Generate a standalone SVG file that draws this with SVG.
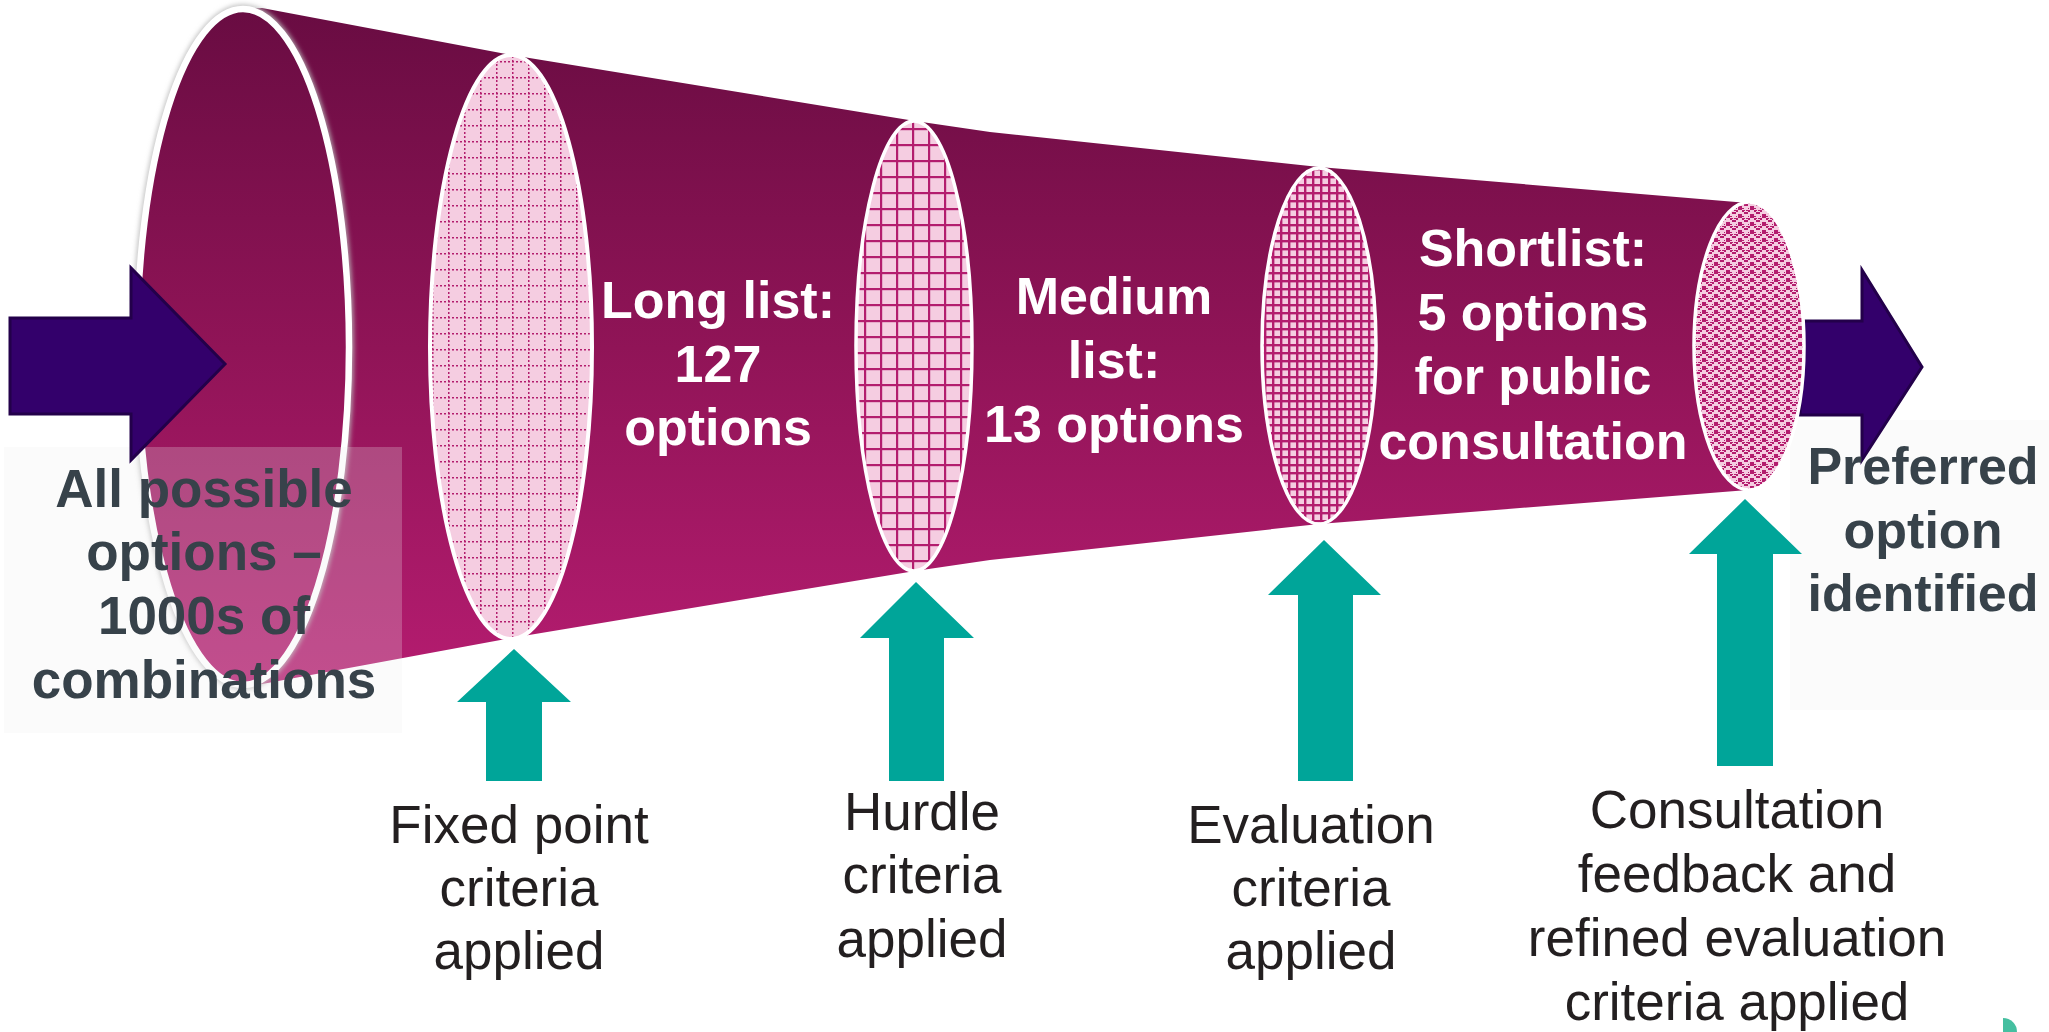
<svg xmlns="http://www.w3.org/2000/svg" width="2049" height="1032" viewBox="0 0 2049 1032">
<defs>
  <linearGradient id="funnelGrad" gradientUnits="userSpaceOnUse" x1="0" y1="9" x2="0" y2="686">
    <stop offset="0" stop-color="#690C42"/>
    <stop offset="0.5" stop-color="#901457"/>
    <stop offset="1" stop-color="#B51C70"/>
  </linearGradient>
  <pattern id="dotGrid" width="16" height="16" patternUnits="userSpaceOnUse">
    <rect width="16" height="16" fill="#F5CDE1"/>
    <line x1="0.75" y1="0" x2="0.75" y2="16" stroke="#B31D6E" stroke-width="1.5" stroke-dasharray="2 2"/>
    <line x1="0" y1="13.75" x2="16" y2="13.75" stroke="#B31D6E" stroke-width="1.5" stroke-dasharray="2 2"/>
  </pattern>
  <pattern id="grid16" width="16" height="16" patternUnits="userSpaceOnUse">
    <rect width="16" height="16" fill="#F5CDE1"/>
    <rect x="0" y="0" width="2.2" height="16" fill="#B31D6E"/>
    <rect x="0" y="0" width="16" height="2.2" fill="#B31D6E"/>
  </pattern>
  <pattern id="grid8" width="8" height="8" patternUnits="userSpaceOnUse">
    <rect width="8" height="8" fill="#F5CDE1"/>
    <rect x="0" y="0" width="2.4" height="8" fill="#B31D6E"/>
    <rect x="0" y="0" width="8" height="2.4" fill="#B31D6E"/>
  </pattern>
  <pattern id="zigzag" width="12" height="8" patternUnits="userSpaceOnUse">
    <rect width="12" height="8" fill="#F5CDE1"/>
    <g fill="#B31D6E">
      <rect x="0" y="0" width="2" height="2"/>
      <rect x="2" y="2" width="2" height="2"/>
      <rect x="4" y="4" width="2" height="2"/>
      <rect x="6" y="4" width="2" height="2"/>
      <rect x="8" y="2" width="2" height="2"/>
      <rect x="10" y="0" width="2" height="2"/>
      <rect x="2" y="0" width="2" height="1"/>
      <rect x="0" y="6" width="2" height="2"/>
      <rect x="6" y="2" width="2" height="1"/>
      <rect x="10" y="6" width="2" height="2"/>
      <rect x="4" y="2" width="1" height="1"/>
      <rect x="8" y="0" width="1" height="1"/>
    </g>
  </pattern>
  <filter id="halo" x="-10%" y="-10%" width="120%" height="120%">
    <feGaussianBlur stdDeviation="2.5"/>
  </filter>
</defs>
<style>
  .wht { font-family: "Liberation Sans", Arial, sans-serif; font-weight: bold; font-size: 52px; fill: #FFFFFF; text-anchor: middle; }
  .dark { font-family: "Liberation Sans", Arial, sans-serif; font-weight: bold; font-size: 53px; fill: #37424A; text-anchor: middle; }
  .lbl { font-family: "Liberation Sans", Arial, sans-serif; font-size: 53px; fill: #231F20; text-anchor: middle; }
  .teal { fill: #00A599; }
  .purple { fill: #33006B; stroke: #23004A; stroke-width: 3; stroke-linejoin: miter; }
  .ring { stroke: #FFFFFF; }
  .box { fill: #F0F0F0; fill-opacity: 0.24; }
</style>
<rect width="2049" height="1032" fill="#FFFFFF"/>

<g id="funnel">
  <path d="M262,8 L511,55 L915,121 L990,132 L1319,167 L1748,203 L1748,490 L1319,524 L990,560 L915,571 L511,638 L262,684 L243,686 L243,9 Z" fill="url(#funnelGrad)"/>
  <g id="stage-all">
    <ellipse cx="243" cy="347" rx="108" ry="340" fill="none" stroke="#BBBBBB" stroke-width="5" filter="url(#halo)"/>
    <ellipse class="ring" cx="243" cy="347" rx="106" ry="338" fill="url(#funnelGrad)" stroke-width="6.5"/>
  </g>
  <g id="stage-fixed"><ellipse class="ring" cx="511" cy="347" rx="81" ry="292" fill="url(#dotGrid)" stroke-width="4"/></g>
  <g id="stage-hurdle"><ellipse class="ring" cx="914" cy="346" rx="58" ry="225" fill="url(#grid16)" stroke-width="3.5"/></g>
  <g id="stage-eval"><ellipse class="ring" cx="1319" cy="346" rx="57" ry="178" fill="url(#grid8)" stroke-width="3.5"/></g>
</g>

<rect id="box-all" class="box" x="4" y="447" width="398" height="286"/>
<rect id="box-preferred" class="box" x="1790" y="420" width="259" height="290"/>

<g id="connectors">
  <polygon id="arrow-out" class="purple" points="1800,321 1862,321 1862,270 1922,367 1862,460 1862,415 1800,415"/>
  <polygon id="arrow-in" class="purple" points="10,318 131,318 131,268 225,364 131,460 131,414 10,414"/>
  <polygon id="arrow-fixed" class="teal" points="486,781 486,702 457,702 514,649 571,702 542,702 542,781"/>
  <polygon id="arrow-hurdle" class="teal" points="889,781 889,638 860,638 916,582 974,638 944,638 944,781"/>
  <polygon id="arrow-eval" class="teal" points="1298,781 1298,595 1268,595 1324,540 1381,595 1353,595 1353,781"/>
  <polygon id="arrow-consult" class="teal" points="1717,766 1717,554 1689,554 1745,499 1802,554 1773,554 1773,766"/>
</g>

<g id="stage-consult"><ellipse class="ring" cx="1749" cy="346" rx="55" ry="144" fill="url(#zigzag)" stroke-width="3.5"/></g>

<g id="node-all">
  <text class="dark" x="204" y="507">All possible</text>
  <text class="dark" x="204" y="570">options –</text>
  <text class="dark" x="204" y="634">1000s of</text>
  <text class="dark" x="204" y="698">combinations</text>
</g>

<g id="node-long">
  <text class="wht" x="718" y="318">Long list:</text>
  <text class="wht" x="718" y="382">127</text>
  <text class="wht" x="718" y="445">options</text>
</g>

<g id="node-medium">
  <text class="wht" x="1114" y="314">Medium</text>
  <text class="wht" x="1114" y="378">list:</text>
  <text class="wht" x="1114" y="442">13 options</text>
</g>

<g id="node-short">
  <text class="wht" x="1533" y="266">Shortlist:</text>
  <text class="wht" x="1533" y="330">5 options</text>
  <text class="wht" x="1533" y="394">for public</text>
  <text class="wht" x="1533" y="459">consultation</text>
</g>

<g id="node-preferred">
  <text class="dark" x="1923" y="484" style="font-size:52px">Preferred</text>
  <text class="dark" x="1923" y="548" style="font-size:52px">option</text>
  <text class="dark" x="1923" y="611" style="font-size:52px">identified</text>
</g>

<g id="label-fixed">
  <text class="lbl" x="519" y="843">Fixed point</text>
  <text class="lbl" x="519" y="906">criteria</text>
  <text class="lbl" x="519" y="969">applied</text>
</g>
<g id="label-hurdle">
  <text class="lbl" x="922" y="830">Hurdle</text>
  <text class="lbl" x="922" y="893">criteria</text>
  <text class="lbl" x="922" y="957">applied</text>
</g>
<g id="label-eval">
  <text class="lbl" x="1311" y="843">Evaluation</text>
  <text class="lbl" x="1311" y="906">criteria</text>
  <text class="lbl" x="1311" y="969">applied</text>
</g>
<g id="label-consult">
  <text class="lbl" x="1737" y="828">Consultation</text>
  <text class="lbl" x="1737" y="892">feedback and</text>
  <text class="lbl" x="1737" y="956">refined evaluation</text>
  <text class="lbl" x="1737" y="1020">criteria applied</text>
</g>

<path id="corner-mark" d="M2003,1018 A14,14 0 0 1 2017,1032 L2003,1032 Z" fill="#45BFA0"/>
</svg>
